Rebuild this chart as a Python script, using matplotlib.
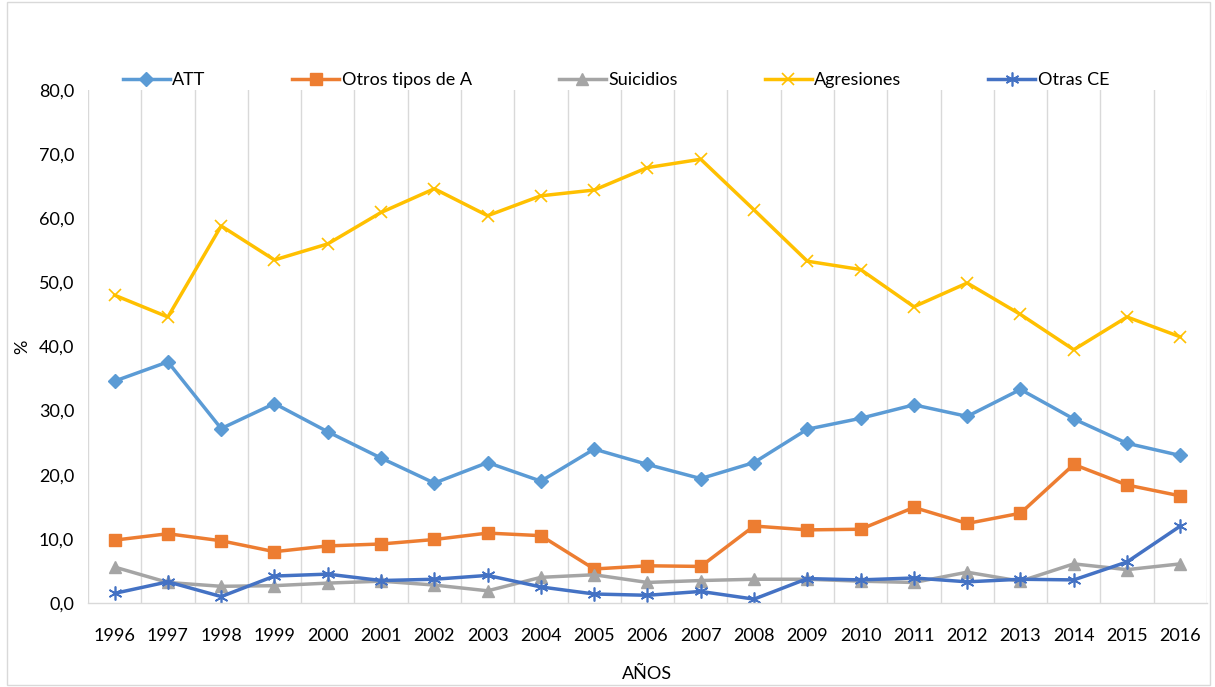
import matplotlib
matplotlib.use('Agg')
import matplotlib.pyplot as plt
from matplotlib.ticker import FuncFormatter, FixedLocator
from matplotlib.patches import Rectangle

plt.rcParams['font.family'] = ['Lato', 'DejaVu Sans']

years = [str(y) for y in range(1996, 2017)]

att = [34.6, 37.6, 27.2, 31.1, 26.7, 22.6, 18.7, 21.9, 19.0, 24.0, 21.6,
       19.4, 21.9, 27.1, 28.8, 30.9, 29.1, 33.3, 28.7, 24.9, 23.0]
otros_a = [9.8, 10.8, 9.7, 8.0, 8.9, 9.2, 9.9, 10.9, 10.5, 5.3, 5.8,
           5.7, 12.0, 11.4, 11.5, 14.9, 12.4, 14.0, 21.6, 18.4, 16.7]
suicidios = [5.6, 3.2, 2.6, 2.7, 3.1, 3.4, 2.8, 1.9, 4.0, 4.4, 3.2,
             3.5, 3.7, 3.7, 3.4, 3.2, 4.8, 3.4, 6.1, 5.2, 6.1]
agresiones = [48.0, 44.6, 58.8, 53.5, 56.0, 60.9, 64.6, 60.4, 63.5, 64.4, 67.9,
              69.2, 61.3, 53.3, 52.0, 46.2, 49.9, 45.0, 39.5, 44.6, 41.5]
otras_ce = [1.5, 3.3, 1.0, 4.2, 4.5, 3.5, 3.7, 4.3, 2.5, 1.4, 1.2,
            1.8, 0.6, 3.8, 3.6, 3.9, 3.3, 3.7, 3.6, 6.4, 12.0]

fig = plt.figure(figsize=(12.15, 6.87), dpi=100)
ax = fig.add_axes([0.0724, 0.1223, 0.921, 0.7467])

x = list(range(len(years)))
lw = 2.5
ax.plot(x, att, color='#5B9BD5', lw=lw, marker='D', ms=7, label='ATT')
ax.plot(x, otros_a, color='#ED7D31', lw=lw, marker='s', ms=9, label='Otros tipos de A')
ax.plot(x, suicidios, color='#A5A5A5', lw=lw, marker='^', ms=8, label='Suicidios')
ax.plot(x, agresiones, color='#FFC000', lw=lw, marker='x', ms=9, mew=1.2, label='Agresiones')
ax.plot(x, otras_ce, color='#4472C4', lw=lw, marker=(6, 2, 0), ms=10, mew=1.2, label='Otras CE')

ax.set_xlim(-0.5, len(years) - 0.5)
ax.set_ylim(0, 80)
ax.set_yticks(range(0, 81, 10))
ax.yaxis.set_major_formatter(FuncFormatter(lambda v, p: f'{v:.1f}'.replace('.', ',')))
ax.set_xticks(x)
ax.set_xticklabels(years)
ax.xaxis.set_minor_locator(FixedLocator([i - 0.5 for i in range(len(years) + 1)]))
ax.grid(which='minor', axis='x', color='#D9D9D9', lw=1.0)
ax.set_axisbelow(True)
ax.tick_params(axis='both', which='both', length=0, labelsize=13)
ax.tick_params(axis='x', pad=18)
ax.tick_params(axis='y', pad=10)

for s in ['top', 'right', 'left']:
    ax.spines[s].set_visible(False)
ax.spines['bottom'].set_color('#D9D9D9')
ax.spines['bottom'].set_linewidth(1.0)

ax.set_ylabel('%', fontsize=13, labelpad=6)
ax.set_xlabel('AÑOS', fontsize=13, labelpad=16)

fig.legend(loc='center', bbox_to_anchor=(616 / 1215, 1 - 80 / 687), ncol=5,
           frameon=False, fontsize=13, handlelength=2.6, handletextpad=0.15,
           columnspacing=4.8)

fig.patches.append(Rectangle((0.006, 0.003), 0.99, 0.994, transform=fig.transFigure,
                             fill=False, edgecolor='#D9D9D9', lw=1))

fig.savefig('out.png', dpi=100)
